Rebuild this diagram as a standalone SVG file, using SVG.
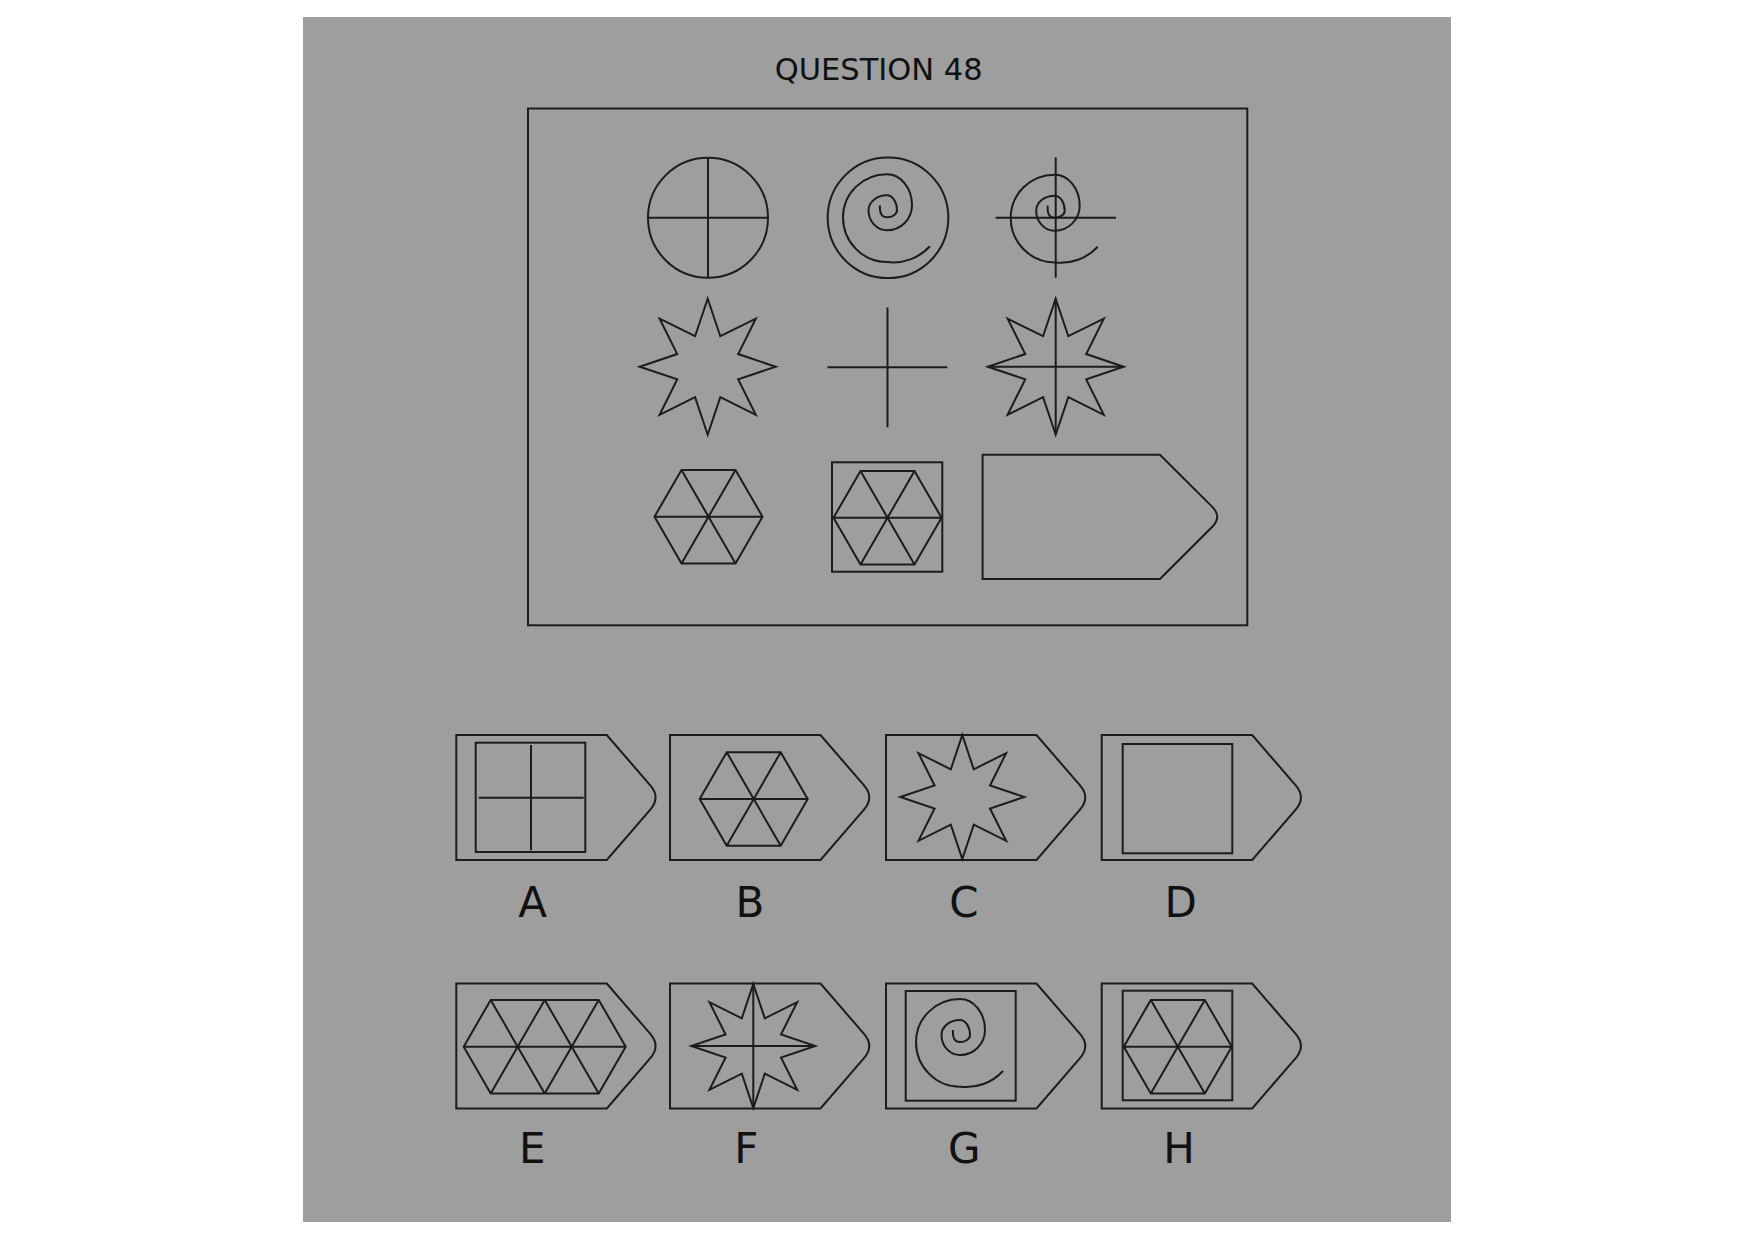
<svg xmlns="http://www.w3.org/2000/svg" xmlns:xlink="http://www.w3.org/1999/xlink" width="1754" height="1241" viewBox="0 0 1754 1241">
<style>
.ln{fill:none;stroke:#1c1c1c;stroke-width:2;stroke-linejoin:miter}
.lbl{font-family:"DejaVu Sans","Liberation Sans",sans-serif;font-size:42px;fill:#111;text-anchor:middle}
.ttl{font-family:"DejaVu Sans","Liberation Sans",sans-serif;font-size:30.5px;fill:#111;text-anchor:middle}
</style>
<defs>
<path id="tag" d="M0,0 H150.5 L194,50.4 Q204.5,62.5 194,74.6 L150.5,125 H0 Z"/>
<path id="starBig" d="M0,-68 L12.63,-30.49 L48.08,-48.08 L30.49,-12.63 L68,0 L30.49,12.63 L48.08,48.08 L12.63,30.49 L0,68 L-12.63,30.49 L-48.08,48.08 L-30.49,12.63 L-68,0 L-30.49,-12.63 L-48.08,-48.08 L-12.63,-30.49 Z"/>
<path id="starSmall" d="M0,-62 L11.48,-27.72 L43.84,-43.84 L27.72,-11.48 L62,0 L27.72,11.48 L43.84,43.84 L11.48,27.72 L0,62 L-11.48,27.72 L-43.84,43.84 L-27.72,11.48 L-62,0 L-27.72,-11.48 L-43.84,-43.84 L-11.48,-27.72 Z"/>
<path id="hex" d="M-54,0 L-27,-46.77 L27,-46.77 L54,0 L27,46.77 L-27,46.77 Z M-54,0 H54 M-27,-46.77 L27,46.77 M27,-46.77 L-27,46.77"/>
<path id="spiral" d="M-8,-12 Q-9,0 -1,0 A10 7 0 0 0 9,-7 A10 15 0 0 0 -1,-22 A18.5 15 0 0 0 -19.5,-7 A18.5 20 0 0 0 -1,13 A25 25 0 0 0 24,-12 A25 31 0 0 0 -1,-43 A44 43 0 0 0 -45,0 A44 44.7 0 0 0 -1,44.7 A50 50 0 0 0 42,29"/>
</defs>
<rect x="0" y="0" width="1754" height="1241" fill="#ffffff"/>
<rect x="303" y="17" width="1148" height="1205" fill="#9e9e9e"/>
<text class="ttl" x="878.7" y="80">QUESTION 48</text>
<g id="matrix-frame"><rect class="ln" x="528" y="108.5" width="719.3" height="516.8"/></g>
<g id="cell-r1c1" class="ln"><circle cx="708" cy="217.8" r="60"/><path d="M708,157.8 V277.8 M648,217.8 H768"/></g>
<g id="cell-r1c2" class="ln"><circle cx="888" cy="217.8" r="60.3"/><use href="#spiral" transform="translate(888,217.3)"/></g>
<g id="cell-r1c3" class="ln"><path d="M1055.7,157.3 V277.7 M995.7,217.7 H1116"/><use href="#spiral" transform="translate(1055.7,217.7)"/></g>
<g id="cell-r2c1" class="ln"><use href="#starBig" transform="translate(707.7,366.7)"/></g>
<g id="cell-r2c2" class="ln"><path d="M887.5,307.5 V427.3 M827.5,367.3 H947.3"/></g>
<g id="cell-r2c3" class="ln"><use href="#starBig" transform="translate(1055.7,366.7)"/><path d="M1055.7,298.7 V434.7 M987.7,366.7 H1123.7"/></g>
<g id="cell-r3c1" class="ln"><use href="#hex" transform="translate(708.5,516.7)"/></g>
<g id="cell-r3c2" class="ln"><rect x="832" y="462.3" width="110.3" height="109.4"/><use href="#hex" transform="translate(887.5,517.7)"/></g>
<g id="cell-r3c3" class="ln"><path d="M982.6,454.7 H1160 L1212.3,506.9 Q1222.2,516.85 1212.3,526.8 L1160,579 H982.6 Z"/></g>
<g id="option-A" class="ln"><use href="#tag" transform="translate(456.3,735)"/><rect x="475.7" y="742.7" width="109.6" height="109.3"/><path d="M531,745 V850.3 M478.7,797.7 H583.7"/></g>
<g id="option-B" class="ln"><use href="#tag" transform="translate(670,735)"/><use href="#hex" transform="translate(753.7,799)"/></g>
<g id="option-C" class="ln"><use href="#tag" transform="translate(886,735)"/><use href="#starSmall" transform="translate(962.3,797)"/></g>
<g id="option-D" class="ln"><use href="#tag" transform="translate(1101.7,735)"/><rect x="1122.7" y="744" width="109.6" height="109.3"/></g>
<g id="option-E" class="ln"><use href="#tag" transform="translate(456.3,983.5)"/><path d="M463.7,1046.7 L490.7,999.9 H598.7 L625.7,1046.7 L598.7,1093.5 H490.7 Z M463.7,1046.7 H625.7 M490.7,999.9 L544.7,1093.5 M544.7,999.9 L490.7,1093.5 M544.7,999.9 L598.7,1093.5 M598.7,999.9 L544.7,1093.5"/></g>
<g id="option-F" class="ln"><use href="#tag" transform="translate(670,983.5)"/><use href="#starSmall" transform="translate(753.3,1046)"/><path d="M753.3,984 V1108 M691.3,1046 H815.3"/></g>
<g id="option-G" class="ln"><use href="#tag" transform="translate(886,983.5)"/><rect x="905.7" y="991" width="110" height="109.7"/><use href="#spiral" transform="translate(961,1042)"/></g>
<g id="option-H" class="ln"><use href="#tag" transform="translate(1101.7,983.5)"/><rect x="1122.7" y="990.7" width="109.6" height="109.6"/><use href="#hex" transform="translate(1177.8,1046.7)"/></g>
<g id="labels">
<text class="lbl" x="532.7" y="916.7">A</text>
<text class="lbl" x="750" y="916.7">B</text>
<text class="lbl" x="964" y="916.7">C</text>
<text class="lbl" x="1180.7" y="916.7">D</text>
<text class="lbl" x="532.3" y="1162.7">E</text>
<text class="lbl" x="746.3" y="1162.7">F</text>
<text class="lbl" x="964.3" y="1162.7">G</text>
<text class="lbl" x="1179" y="1162.7">H</text>
</g>
<g id="connectors"></g>
</svg>
